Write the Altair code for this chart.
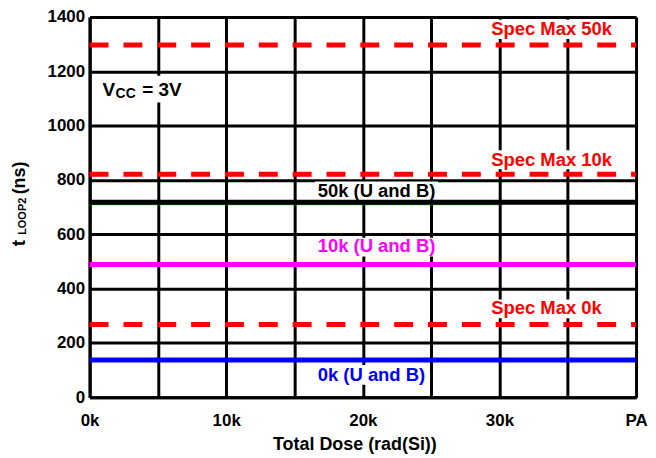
import altair as alt
import pandas as pd

# ---- data ----
dose = [0, 10, 20, 30, 40]                      # krad(Si); 40 = PA (post anneal)
x_tick_values = [0, 10, 20, 30, 40]
x_tick_labels = ["0k", "10k", "20k", "30k", "PA"]
x_grid_values = [0, 5, 10, 15, 20, 25, 30, 35, 40]
y_tick_values = [0, 200, 400, 600, 800, 1000, 1200, 1400]

t_0k = [137, 137, 137, 137, 137]
t_10k = [489, 489, 489, 489, 489]
t_50k = [718, 718, 718, 718, 718]
t_50k_u = [709, 709, 709, 709]          # thin green trace under the black line
spec_0k = [268, 268, 268, 268, 268]
spec_10k = [821, 821, 821, 821, 821]
spec_50k = [1297, 1297, 1297, 1297, 1297]

FONT = "Liberation Sans"

solid_rows = []
for name, vals, col in [("0k", t_0k, "#0000FF"), ("10k", t_10k, "#FF00FF"),
                        ("50k", t_50k, "#000000")]:
    for d, v in zip(dose, vals):
        solid_rows.append({"series": name, "dose": d, "t": v, "color": col})
solid_df = pd.DataFrame(solid_rows)

green_df = pd.DataFrame({"dose": dose[:4], "t": t_50k_u})

spec_rows = []
for name, vals in [("s0", spec_0k), ("s10", spec_10k), ("s50", spec_50k)]:
    for d, v in zip(dose, vals):
        spec_rows.append({"series": name, "dose": d, "t": v})
spec_df = pd.DataFrame(spec_rows)

# annotation texts (data coordinates)
label_text = ["Spec Max 50k", "Spec Max 10k", "Spec Max 0k",
              "50k (U and B)", "10k (U and B)", "0k (U and B)"]
label_x = [29.4, 29.4, 29.4, 16.7, 16.7, 16.7]
label_y = [1334, 851, 306, 737, 533, 59]
label_color = ["#FF0000", "#FF0000", "#FF0000", "#000000", "#FF00FF", "#0000FF"]
labels_df = pd.DataFrame({"text": label_text, "x": label_x, "y": label_y, "color": label_color})

# white boxes behind labels
box_x1 = [29.05, 29.05, 29.05, 16.5, 16.5, 16.5, 0.73]
box_x2 = [38.4, 38.4, 37.7, 25.5, 25.5, 24.8, 7.4]
box_y1 = [1390, 909, 360, 794, 587, 119, 1184]
box_y2 = [1319, 839, 291, 726, 518, 46, 1085]
boxes_df = pd.DataFrame({"x1": box_x1, "x2": box_x2, "y1": box_y1, "y2": box_y2})

# V_CC = 3V annotation
vcc_df = pd.DataFrame({
    "text": ["V", "CC", "= 3V"],
    "x": [0.95, 1.9, 3.85],
    "y": [1110, 1103, 1110],
    "size": [19, 14, 19],
})

# y-axis title pieces  t_LOOP2 (ns)
ytitle_df = pd.DataFrame({
    "text": ["t", "LOOP2", "(ns)"],
    "y": [556, 598, 747],
    "xpix": [-65, -63.5, -64.5],
    "size": [19, 11, 18],
})

label_expr = " : ".join(
    f"datum.value == {v} ? '{l}'" for v, l in zip(x_tick_values, x_tick_labels)
) + " : ''"

xscale = alt.Scale(domain=[0, 40], nice=False, zero=False)
yscale = alt.Scale(domain=[0, 1400], nice=False)

x_axis = alt.Axis(values=x_grid_values, labelExpr=label_expr, title="Total Dose (rad(Si))",
                  grid=True, gridColor="black", gridWidth=3, gridOpacity=1,
                  domainColor="black", domainWidth=3, ticks=False,
                  labelFont=FONT, labelFontSize=17, labelFontWeight="bold", labelColor="black",
                  labelPadding=15, labelFlush=False, labelOverlap=False,
                  titleFont=FONT, titleFontSize=18, titleFontWeight="bold", titleColor="black",
                  titlePadding=8, titleX=266)
y_axis = alt.Axis(values=y_tick_values, title=None, format="d",
                  grid=True, gridColor="black", gridWidth=3, gridOpacity=1,
                  domainColor="black", domainWidth=3, ticks=False,
                  labelFont=FONT, labelFontSize=17, labelFontWeight="bold", labelColor="black",
                  labelPadding=5, labelFlush=False, labelOverlap=False)

base_x = alt.X("dose:Q", scale=xscale, axis=x_axis)
base_y = alt.Y("t:Q", scale=yscale, axis=y_axis)

boxes = alt.Chart(boxes_df).mark_rect(color="white").encode(
    x=alt.X("x1:Q", scale=xscale, axis=x_axis), x2="x2:Q",
    y=alt.Y("y1:Q", scale=yscale, axis=y_axis), y2="y2:Q")

spec = alt.Chart(spec_df).mark_line(color="#FF0000", strokeWidth=5, strokeDash=[19, 15]).encode(
    x=base_x, y=base_y, detail="series:N")

green = alt.Chart(green_df).mark_line(color="#00C000", strokeWidth=1).encode(x=base_x, y=base_y)

solid = alt.Chart(solid_df).mark_line(strokeWidth=5).encode(
    x=base_x, y=base_y, detail="series:N", color=alt.Color("color:N", scale=None))

labels = alt.Chart(labels_df).mark_text(font=FONT, fontSize=18.5, fontWeight="bold",
                                        align="left", baseline="alphabetic").encode(
    x=alt.X("x:Q", scale=xscale, axis=x_axis), y=alt.Y("y:Q", scale=yscale, axis=y_axis),
    text="text:N", color=alt.Color("color:N", scale=None))

vcc = alt.Chart(vcc_df).mark_text(font=FONT, fontWeight="bold", align="left",
                                  baseline="alphabetic", color="black").encode(
    x=alt.X("x:Q", scale=xscale, axis=x_axis), y=alt.Y("y:Q", scale=yscale, axis=y_axis),
    text="text:N", size=alt.Size("size:Q", scale=None))

ytitle = alt.Chart(ytitle_df).mark_text(font=FONT, fontWeight="bold", align="left",
                                        baseline="alphabetic", angle=270, color="black").encode(
    x=alt.X("xpix:Q", scale=None), y=alt.Y("y:Q", scale=yscale, axis=y_axis),
    text="text:N", size=alt.Size("size:Q", scale=None))

chart = alt.layer(boxes, spec, green, solid, labels, vcc, ytitle).properties(
    width=549, height=382,
    autosize=alt.AutoSizeParams(type="none"),
    padding={"left": 82, "top": 8, "right": 12, "bottom": 58},
    background="white",
).configure_view(stroke=None)

chart.save("out.html", embed_options={"renderer": "svg", "actions": False})
